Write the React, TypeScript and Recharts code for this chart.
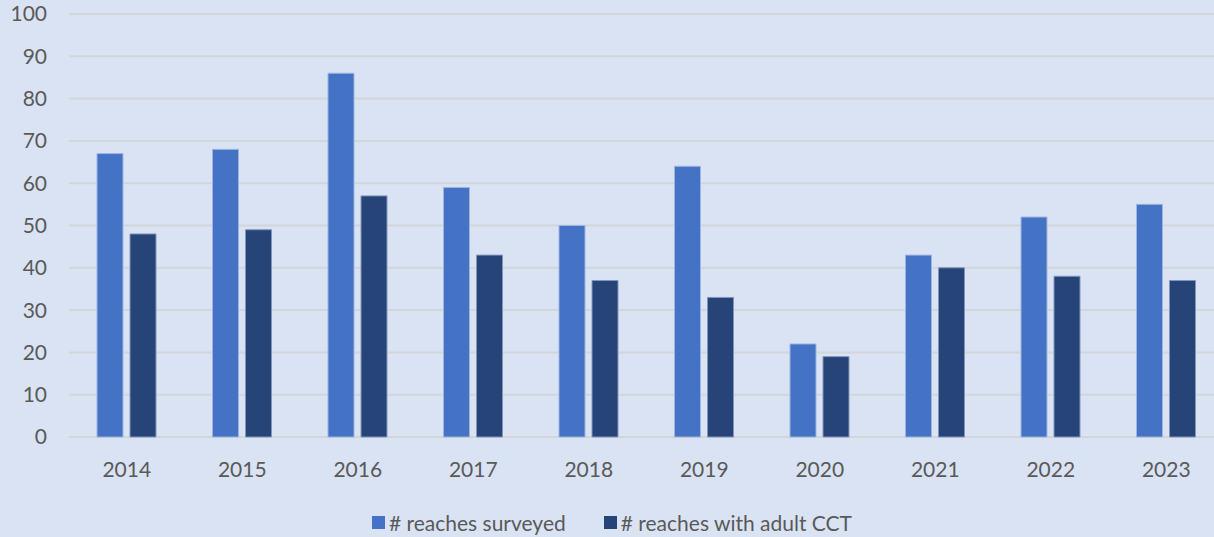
import React from 'react';
import { BarChart, Bar, XAxis, YAxis, CartesianGrid, Legend } from 'recharts';

const years = ['2014', '2015', '2016', '2017', '2018', '2019', '2020', '2021', '2022', '2023'];
const surveyed = [67, 68, 86, 59, 50, 64, 22, 43, 52, 55];
const withAdult = [48, 49, 57, 43, 37, 33, 19, 40, 38, 37];
const yTicks = [0, 10, 20, 30, 40, 50, 60, 70, 80, 90, 100];

const SURVEYED_NAME = '# reaches surveyed';
const ADULT_NAME = '# reaches with adult CCT';

const data = years.map((year, i) => ({
  year,
  surveyed: surveyed[i],
  adult: withAdult[i],
}));

const FONT = 'Lato, "Open Sans", sans-serif';
const TEXT = '#595959';

function LegendContent(props: any) {
  const { payload = [] } = props;
  return (
    <div
      style={{
        height: 40,
        boxSizing: 'border-box',
        paddingTop: 10,
        display: 'flex',
        justifyContent: 'center',
        alignItems: 'center',
        gap: 38,
        fontFamily: FONT,
        fontSize: 21,
        color: TEXT,
      }}
    >
      {payload.map((p: any) => (
        <div key={p.value} style={{ display: 'flex', alignItems: 'center', gap: 4 }}>
          <span style={{ width: 13, height: 13, background: p.color, display: 'inline-block' }} />
          <span>{p.value}</span>
        </div>
      ))}
    </div>
  );
}

export default function App() {
  return (
    <div
      style={{
        position: 'absolute',
        left: 0,
        top: 0,
        width: 1214,
        height: 537,
        overflow: 'hidden',
        background: '#DAE3F3',
      }}
    >
      <BarChart
        width={1224}
        height={537}
        data={data}
        margin={{ top: 14, right: 0, bottom: 0, left: 0 }}
        barSize={26}
        barGap={7}
      >
        <CartesianGrid vertical={false} stroke="#D2D5DA" strokeWidth={2} />
        <XAxis
          dataKey="year"
          height={60}
          axisLine={false}
          tickLine={false}
          tickSize={0}
          tickMargin={25}
          tick={{ fill: TEXT, fontSize: 21, fontFamily: FONT }}
        />
        <YAxis
          width={69}
          domain={[0, 100]}
          ticks={yTicks}
          axisLine={false}
          tickLine={false}
          tickSize={0}
          tickMargin={22}
          tick={{ fill: TEXT, fontSize: 21, fontFamily: FONT }}
        />
        <Legend verticalAlign="bottom" content={<LegendContent />} />
        <Bar
          dataKey="surveyed"
          name={SURVEYED_NAME}
          fill="#4472C4"
          stroke="#9DB5E0"
          strokeWidth={1}
          isAnimationActive={false}
        />
        <Bar
          dataKey="adult"
          name={ADULT_NAME}
          fill="#264478"
          stroke="#8296BC"
          strokeWidth={1}
          isAnimationActive={false}
        />
      </BarChart>
    </div>
  );
}
